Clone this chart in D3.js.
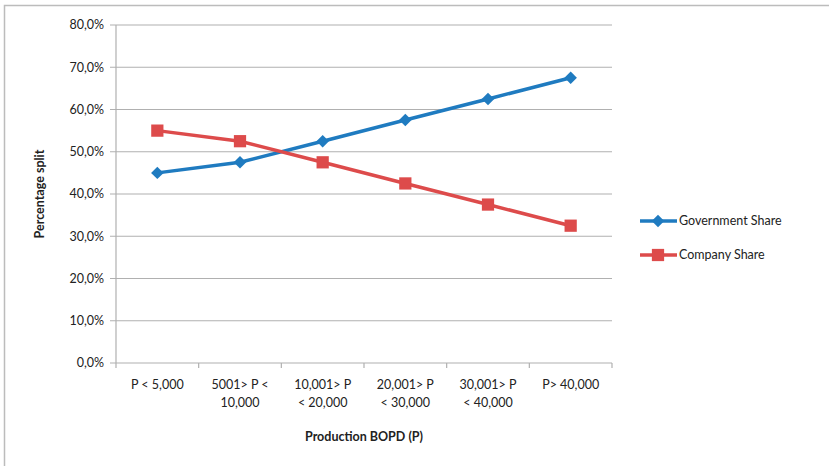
<!DOCTYPE html>
<html><head><meta charset="utf-8">
<script src="https://cdn.jsdelivr.net/npm/d3@7"></script>
<style>body{margin:0;background:#fff}svg{display:block}text{font-family:Lato,"Open Sans",sans-serif;fill:#222}</style>
</head><body><svg id="c" width="829" height="466"></svg>
<script>
const categories = [["P < 5,000"],["5001> P <","10,000"],["10,001> P","< 20,000"],["20,001> P","< 30,000"],["30,001> P","< 40,000"],["P> 40,000"]];
const government = [45, 47.5, 52.5, 57.5, 62.5, 67.5];
const company = [55, 52.5, 47.5, 42.5, 37.5, 32.5];
const yTicks = [0,10,20,30,40,50,60,70,80];
const seriesNames = ["Government Share","Company Share"];
const colors = ["#1f7bc0","#dd4b4b"];

const svg = d3.select("#c");
// frame
svg.append("path").attr("d","M4.5,466 V5.5 H829").attr("fill","none").attr("stroke","#bcbcbc").attr("stroke-width",1.5);

const x = d3.scaleBand().domain(d3.range(categories.length)).range([116,612]);
const y = d3.scaleLinear().domain([0,80]).range([363,25]);

// gridlines
svg.append("g").selectAll("line").data(yTicks).join("line")
  .attr("x1",110).attr("x2",612).attr("y1",d=>y(d)).attr("y2",d=>y(d))
  .attr("stroke","#b0b0b0").attr("stroke-width",1.2);
// y axis line
svg.append("line").attr("x1",116).attr("x2",116).attr("y1",y(80)).attr("y2",y(0)).attr("stroke","#b0b0b0").attr("stroke-width",1.2);
// x tick marks
const xt = d3.range(categories.length+1).map(i=>116 + i*x.bandwidth());
svg.append("g").selectAll("line").data(xt).join("line")
  .attr("x1",d=>d).attr("x2",d=>d).attr("y1",363).attr("y2",368).attr("stroke","#b0b0b0").attr("stroke-width",1.2);
// y labels
svg.append("g").selectAll("text").data(yTicks).join("text")
  .attr("x",104).attr("y",d=>y(d)).attr("dy","0.35em").attr("text-anchor","end")
  .attr("font-size",12.5).text(d=>d.toFixed(1).replace(".",",")+"%");
// x labels
const xl = svg.append("g").selectAll("text").data(categories).join("text")
  .attr("x",(d,i)=>x(i)+x.bandwidth()/2).attr("y",389).attr("text-anchor","middle").attr("font-size",12.5);
xl.selectAll("tspan").data(d=>d).join("tspan").attr("x",function(){return this.parentNode.getAttribute("x");})
  .attr("dy",(d,i)=>i?18:0).text(d=>d);

// axis titles
svg.append("text").attr("x",364).attr("y",441).attr("text-anchor","middle").attr("font-size",12.5).attr("font-weight","bold").text("Production BOPD (P)");
svg.append("text").attr("transform","translate(44,194) rotate(-90)").attr("text-anchor","middle").attr("font-size",12.5).attr("font-weight","bold").text("Percentage split");

const cx = i => x(i)+x.bandwidth()/2;
const line = d3.line().x((d,i)=>cx(i)).y(d=>y(d));
const diamond = d3.symbol().type(d3.symbolSquare).size(78);
const square = d3.symbol().type(d3.symbolSquare).size(150);

function marker(sel,k){
  sel.attr("d",k?square:diamond).attr("fill",colors[k]);
}

[government, company].forEach((s,k)=>{
  svg.append("path").datum(s).attr("d",line).attr("fill","none").attr("stroke",colors[k]).attr("stroke-width",3.5);
  svg.append("g").selectAll("path").data(s).join("path")
    .attr("transform",(d,i)=>`translate(${cx(i)},${y(d)})` + (k?"":" rotate(45)"))
    .call(marker,k);
});

// legend
seriesNames.forEach((n,k)=>{
  const ly = 221 + k*34;
  svg.append("line").attr("x1",640).attr("x2",677).attr("y1",ly).attr("y2",ly).attr("stroke",colors[k]).attr("stroke-width",3.5);
  svg.append("path").attr("transform",`translate(658,${ly})`+(k?"":" rotate(45)")).call(marker,k);
  svg.append("text").attr("x",679).attr("y",ly).attr("dy","0.35em").attr("font-size",12.5).text(n);
});
</script></body></html>
